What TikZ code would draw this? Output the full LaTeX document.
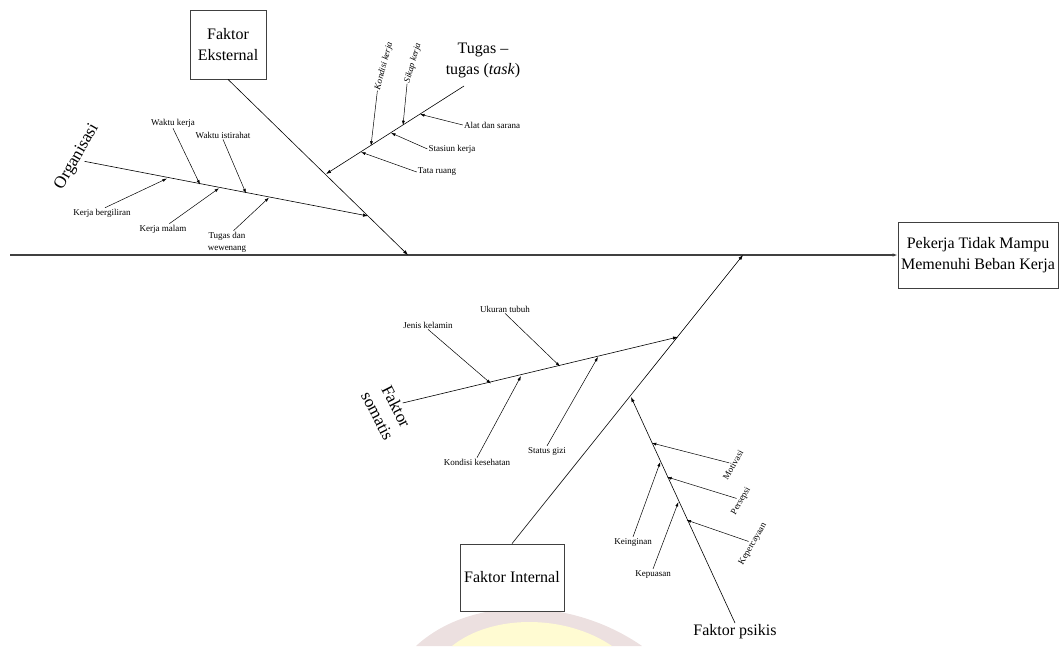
\documentclass[tikz,border=0pt]{standalone}
\usepackage{fontspec}
\setmainfont{Liberation Serif}
\usetikzlibrary{arrows.meta}
\definecolor{wmpink}{RGB}{236,224,224}
\definecolor{wmyellow}{RGB}{255,251,210}

\begin{document}
\begin{tikzpicture}[x=1pt,y=-1pt,
    box/.style={draw=black!75,line width=0.8pt,fill=white,align=center,inner sep=2pt,font=\fontsize{16}{21}\selectfont},
    big/.style={align=center,inner sep=1pt,font=\fontsize{16}{21}\selectfont},
    lbl/.style={inner sep=1pt,align=center,font=\fontsize{9}{12}\selectfont},
    bone/.style={line width=0.6pt,-{Latex[length=5pt,width=3.5pt]}},
    sub/.style={line width=0.5pt,-{Latex[length=4.5pt,width=3pt]}}]
    \useasboundingbox (0,0) rectangle (1062,646);
    % faint watermark at the bottom
    \fill[wmpink] (416,646) .. controls (470,596) and (570,596) .. (642,646) -- cycle;
    \fill[wmyellow] (452,646) .. controls (492,614) and (565,614) .. (612,646) -- cycle;

    % head and main spine
    \node[box,minimum width=160pt,minimum height=66pt] (res) at (978,255) {Pekerja Tidak Mampu\\Memenuhi Beban Kerja};
    \coordinate (sp-s) at (10,255);
    \draw[line width=1.1pt,black!75,-{Latex[length=5pt,width=3.5pt]}] (sp-s) -- (res.west);

    % Faktor Eksternal
    \node[box,minimum width=76pt,minimum height=69pt] (eks) at (228,44.5) {Faktor\\Eksternal};
    \coordinate (eks-e) at (408,255);
    \draw[bone] (eks.south) -- (eks-e);

    % Organisasi
    \node[big,rotate=60,font=\fontsize{17}{21}\selectfont] (org) at (77,157) {Organisasi};
    \coordinate (org-e) at (368,216);
    \draw[bone] (org.south) -- (org-e);
    \node[lbl] (wk) at (173,123) {Waktu kerja};
    \node[lbl] (wi) at (223,135) {Waktu istirahat};
    \node[lbl] (kb) at (102,213) {Kerja bergiliran};
    \node[lbl] (km) at (163,229) {Kerja malam};
    \node[lbl] (td) at (227,242) {Tugas dan\\wewenang};
    \coordinate (wk-t) at (200,184.5);
    \coordinate (wi-t) at (246,193.3);
    \coordinate (kb-t) at (167,178.5);
    \coordinate (km-t) at (219,188.2);
    \coordinate (td-t) at (269,197.6);
    \draw[sub] (wk.south) -- (wk-t);
    \draw[sub] (wi.south) -- (wi-t);
    \draw[sub] (kb.60) -- (kb-t);
    \draw[sub] (km.40) -- (km-t);
    \draw[sub] (td.60) -- (td-t);

    % Tugas - tugas (task)
    \node[big] (tug) at (483,60) {Tugas --\\tugas (\textit{task})};
    \coordinate (tug-s) at (464,86);
    \coordinate (tug-e) at (326,174);
    \draw[bone] (tug-s) -- (tug-e);
    \node[lbl,rotate=75,font=\fontsize{9}{12}\selectfont\itshape] (kk) at (384,66) {Kondisi kerja};
    \node[lbl,rotate=74,font=\fontsize{9}{12}\selectfont\itshape] (sk) at (413,63) {Sikap kerja};
    \node[lbl] (ads) at (492,125) {Alat dan sarana};
    \node[lbl] (sts) at (452,149) {Stasiun kerja};
    \node[lbl] (tr) at (437,172) {Tata ruang};
    \coordinate (kk-t) at (371,145.7);
    \coordinate (sk-t) at (403,125.2);
    \coordinate (ads-t) at (420,114.2);
    \coordinate (sts-t) at (391,132.9);
    \coordinate (tr-t) at (361,152.1);
    \draw[sub] (kk.west) -- (kk-t);
    \draw[sub] (sk.west) -- (sk-t);
    \draw[sub] (ads.west) -- (ads-t);
    \draw[sub] (sts.west) -- (sts-t);
    \draw[sub] (tr.west) -- (tr-t);

    % Faktor Internal
    \node[box,minimum width=104pt,minimum height=67pt] (int) at (512,577.5) {Faktor Internal};
    \coordinate (int-e) at (743,255);
    \draw[bone] (int.north) -- (int-e);

    % Faktor somatis
    \node[big,rotate=-63,font=\fontsize{17}{21}\selectfont] (som) at (387,411) {Faktor\\somatis};
    \coordinate (som-e) at (678,337);
    \draw[bone] (som.north) -- (som-e);
    \node[lbl] (jk) at (428,325) {Jenis kelamin};
    \node[lbl] (ut) at (505,309) {Ukuran tubuh};
    \node[lbl] (kks) at (477,462) {Kondisi kesehatan};
    \node[lbl] (sg) at (547,451) {Status gizi};
    \coordinate (jk-t) at (491,383.6);
    \coordinate (ut-t) at (560,366.4);
    \coordinate (kks-t) at (521,376.1);
    \coordinate (sg-t) at (598,356.9);
    \draw[sub] (jk.south) -- (jk-t);
    \draw[sub] (ut.south) -- (ut-t);
    \draw[sub] (kks.north) -- (kks-t);
    \draw[sub] (sg.north) -- (sg-t);

    % Faktor psikis
    \node[big,anchor=north] (psi) at (735,623) {Faktor psikis};
    \coordinate (psi-e) at (631,397);
    \draw[bone] (psi.north) -- (psi-e);
    \node[lbl,rotate=60] (mot) at (733,465) {Motivasi};
    \node[lbl,rotate=60] (per) at (741,501) {Persepsi};
    \node[lbl,rotate=60] (kep) at (753,544) {Kepercayaan};
    \node[lbl] (kei) at (633,542) {Keinginan};
    \node[lbl] (kpu) at (653,574) {Kepuasan};
    \coordinate (mot-t) at (651.8,443);
    \coordinate (per-t) at (667.1,477);
    \coordinate (kep-t) at (686.5,520);
    \coordinate (kei-t) at (660.3,462);
    \coordinate (kpu-t) at (678.4,502);
    \draw[sub] (mot.north) -- (mot-t);
    \draw[sub] (per.north) -- (per-t);
    \draw[sub] (kep.north) -- (kep-t);
    \draw[sub] (kei.north) -- (kei-t);
    \draw[sub] (kpu.north) -- (kpu-t);
\end{tikzpicture}
\end{document}
